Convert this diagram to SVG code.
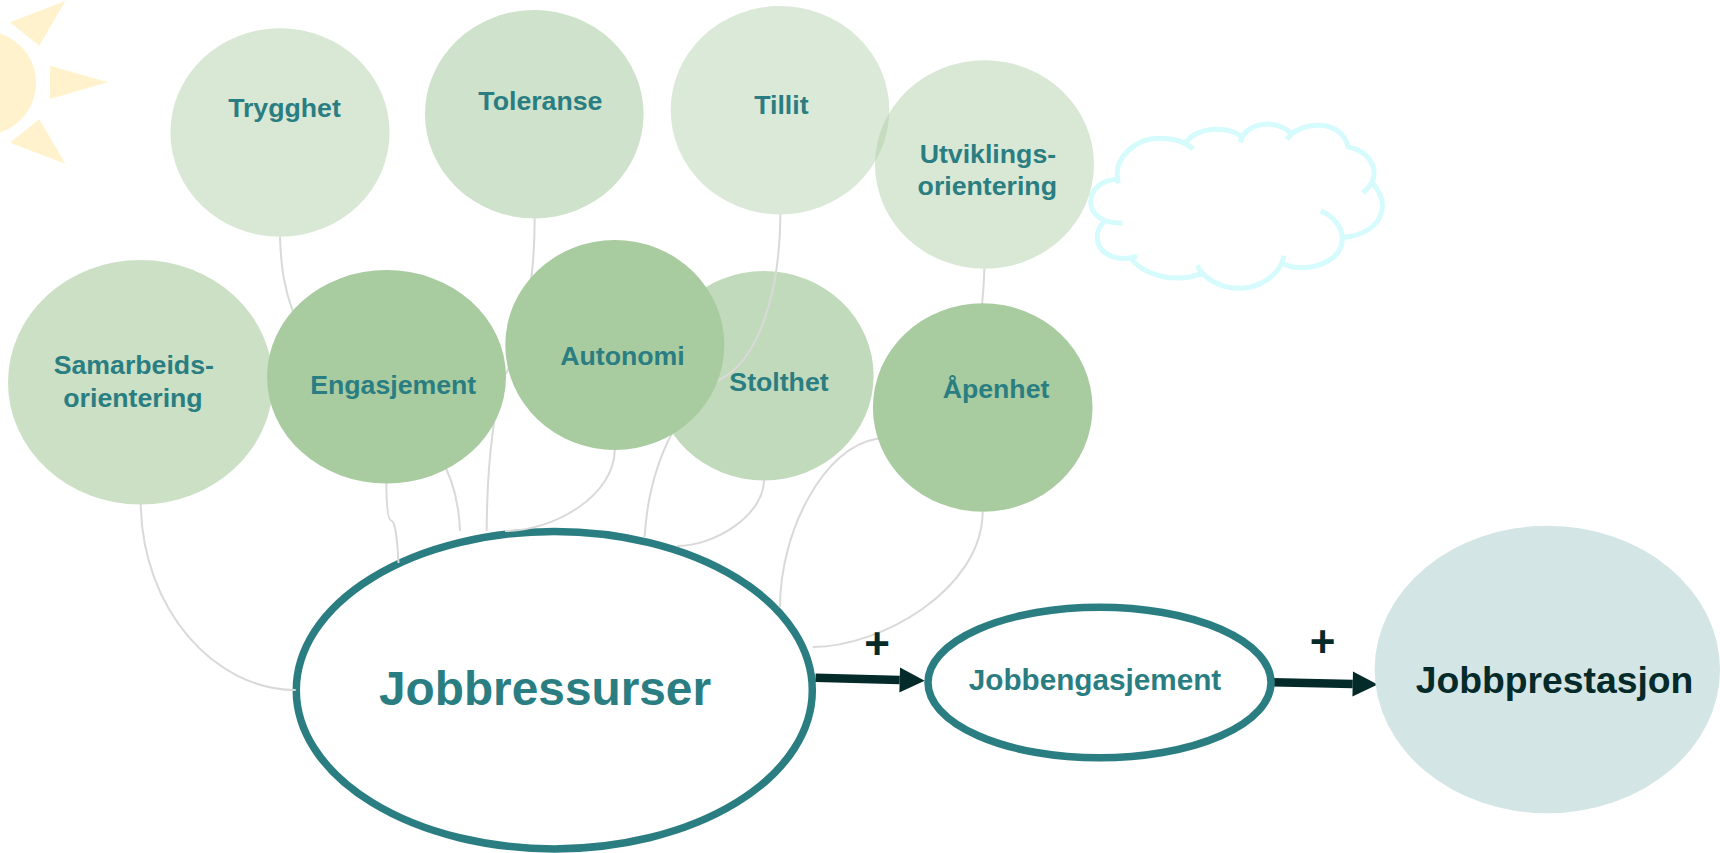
<svg xmlns="http://www.w3.org/2000/svg" width="1720" height="853" viewBox="0 0 1720 853">
<style>
text{font-family:"Liberation Sans",Arial,sans-serif;font-weight:bold;text-anchor:middle}
.t{fill:#2a7e82;font-size:26.7px}
.dark{fill:#052a2a}
.sun{fill:#fff2cc}
.conn{fill:none;stroke:#d9d9d9;stroke-width:2}
.ring{fill:#fff;stroke:#2a7e82;stroke-width:7.5}
.cloud{fill:none;stroke:#d5fbfc;stroke-width:15}
.arrow{fill:none;stroke:#052a2a;stroke-width:8.5}
</style>
<defs>
<marker id="head" markerUnits="userSpaceOnUse" markerWidth="26" markerHeight="26" refX="0" refY="12.5" orient="auto" overflow="visible">
<path d="M0 0L25 12.5L0 25Z" fill="#052a2a"/>
</marker>
</defs>
<rect width="1720" height="853" fill="#fff"/>
<g id="sun">
<ellipse class="sun" cx="-16" cy="83" rx="52" ry="52"/>
<path class="sun" d="M50 65.7L108 82.3L50 99Z"/>
<path class="sun" d="M65.4 1L10 22.3L39.3 45.7Z"/>
<path class="sun" d="M65.4 163.7L10 142.7L39.3 119.3Z"/>
</g>
<g id="cloud" transform="translate(1060 100) scale(.33333)">
<path class="cloud" d="M175 250C155 170 230 115 300 115C340 115 375 125 400 147M378 125C420 78 505 78 545 110M541 127C555 65 650 55 692 100M680 118C720 60 850 55 865 145M860 140C935 150 975 230 908 278M938 250C1000 320 960 400 852 412M782 333C860 365 870 450 800 485C765 505 710 510 670 492M672 467C660 530 590 565 540 565C480 565 430 535 412 497M425 520C350 550 255 530 212 475M232 468C170 490 110 460 112 410C112 390 122 375 132 365M187 370C130 370 92 345 92 305C92 265 130 240 170 238"/>
</g>
<g id="node-stolthet">
<ellipse cx="764" cy="375.7" rx="109.6" ry="104.7" fill="#c1dabb"/>
<text class="t" x="779" y="391">Stolthet</text>
</g>
<g id="node-jobbressurser">
<ellipse class="ring" cx="554.3" cy="690.2" rx="258" ry="158.7"/>
<text x="545" y="705" fill="#2a7e82" font-size="47.8">Jobbressurser</text>
</g>
<g id="connectors">
<path class="conn" d="M140.7 503C142 610 215 690 295.7 690"/>
<path class="conn" d="M386.3 481.7C386.5 505 388 520 391 520.5C395 521 397 535 398.5 563"/>
<path class="conn" d="M280 237C281 270 285 290 293 312C320 350 340 360 380 390C430 430 458 470 460 531"/>
<path class="conn" d="M534.6 218.3C535 290 520 350 505 375C497 395 487 450 486.7 530.7"/>
<path class="conn" d="M614.8 449C615 495 555 531 505 531"/>
<path class="conn" d="M780.4 214.3C780 290 760 360 719 380C690 395 650 450 644.5 537.3"/>
<path class="conn" d="M764 480C764 515 715 546 677 546"/>
<path class="conn" d="M984.3 268.7C984 290 982 300 981 320C975 400 930 432 876 439C825 447 780 530 780 607"/>
<path class="conn" d="M982.7 511.7C982 590 880 647 812.7 647"/>
<path class="arrow" d="M815.5 677.7L899.7 680" marker-end="url(#head)"/>
<path class="arrow" d="M1272.6 682.3L1352.7 684" marker-end="url(#head)"/>
</g>
<g id="node-trygghet">
<ellipse cx="280" cy="132.5" rx="109.6" ry="104.2" fill="#d9e8d5"/>
<text class="t" x="284.5" y="117">Trygghet</text>
</g>
<g id="node-toleranse">
<ellipse cx="534.3" cy="114.2" rx="109.3" ry="104.2" fill="#cfe2cb"/>
<text class="t" x="540.4" y="110.3">Toleranse</text>
</g>
<g id="node-tillit">
<ellipse cx="780" cy="110.2" rx="109.3" ry="104.2" fill="#dbe9d8"/>
<text class="t" x="781.4" y="114">Tillit</text>
</g>
<g id="node-utviklingsorientering">
<ellipse cx="984.5" cy="164.5" rx="109.5" ry="104.2" fill="#a9cba0" fill-opacity=".44"/>
<text class="t" x="987.9" y="163">Utviklings-</text>
<text class="t" x="987.3" y="195.3">orientering</text>
</g>
<g id="node-samarbeidsorientering">
<ellipse cx="140.5" cy="382.3" rx="132.5" ry="122.3" fill="#cbe0c5"/>
<text class="t" x="133.8" y="374.3">Samarbeids-</text>
<text class="t" x="133" y="406.7">orientering</text>
</g>
<g id="node-engasjement">
<ellipse cx="386.5" cy="376.8" rx="119.5" ry="106.8" fill="#a9cba0"/>
<text class="t" x="393.2" y="394.3">Engasjement</text>
</g>
<g id="node-autonomi">
<ellipse cx="614.8" cy="345" rx="109.5" ry="105" fill="#a9cba0"/>
<text class="t" x="622.5" y="364.5">Autonomi</text>
</g>
<g id="node-apenhet">
<ellipse cx="982.7" cy="407.5" rx="109.8" ry="104.2" fill="#a9cba0"/>
<text class="t" x="996" y="397.7">Åpenhet</text>
</g>
<g id="node-jobbengasjement">
<ellipse class="ring" cx="1099.5" cy="682.5" rx="171.5" ry="75.3"/>
<text x="1095" y="690" fill="#2a7e82" font-size="29.7">Jobbengasjement</text>
</g>
<g id="node-jobbprestasjon">
<ellipse cx="1547.3" cy="669.5" rx="172.7" ry="143.7" fill="#d3e5e5"/>
<text class="dark" x="1554.5" y="693" font-size="37.3">Jobbprestasjon</text>
</g>
<text class="dark" x="877" y="659" font-size="44">+</text>
<text class="dark" x="1322.5" y="657" font-size="44">+</text>
</svg>
